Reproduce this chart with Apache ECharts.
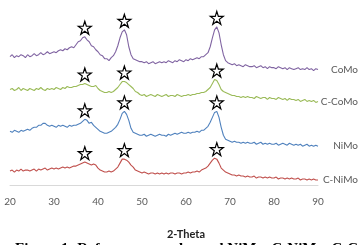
<!DOCTYPE html>
<html>
<head>
<meta charset="utf-8">
<script src="https://cdn.jsdelivr.net/npm/echarts@6/dist/echarts.min.js"></script>
<style>
  html, body { margin: 0; padding: 0; background: #fff; }
  #chart { width: 360px; height: 245px; }
</style>
</head>
<body>
<div id="chart"></div>
<script>
// 2-theta from 20 to 90, step 0.5
var twoTheta = [];
for (var t = 20; t <= 90; t += 0.5) twoTheta.push(t);

var xTicks = [20, 30, 40, 50, 60, 70, 80, 90];
var sampleNames = ['CoMo', 'C-CoMo', 'NiMo', 'C-NiMo'];
var peakPositions = [37, 46, 67];

// intensities (a.u., stacked offsets)
var coMo = [
  129,131,128,130,129,131,130,128,131,129,
  130,132,130,131,133,131,132,134,132,133,
  134,133,135,136,135,137,136,138,139,138,
  141,144,145,148,149,146,144,140,139,136,
  134,131,130,127,127,125,128,130,134,140,
  148,154,156,151,139,131,127,126,125,124,
  124,123,124,122,123,124,122,123,124,123,
  124,123,125,124,123,125,124,126,125,124,
  126,125,127,126,127,128,127,129,129,131,
  133,139,148,156,159,153,141,131,125,123,
  122,121,122,120,121,120,119,121,120,119,
  119,120,118,119,120,118,119,117,119,118,
  118,117,119,118,117,118,116,118,117,116,
  117,118,116,117,116,118,116,117,115,117,
  116
];
var cCoMo = [
  96,97,95,96,98,95,97,96,95,97,
  96,95,97,96,98,96,95,97,96,97,
  96,98,97,96,98,97,99,98,98,99,
  99,100,101,101,102,101,100,99,99,100,
  97,95,94,93,93,94,93,94,96,98,
  101,104,104,103,101,99,97,94,93,91,
  90,91,89,90,91,90,89,91,90,89,
  90,91,89,90,90,89,91,90,89,90,
  90,91,90,91,91,92,92,93,93,94,
  96,98,102,106,105,101,96,94,93,92,
  91,90,90,89,89,88,89,88,89,88,
  88,87,89,88,87,88,88,86,88,87,
  87,86,88,87,86,87,85,87,86,86,
  85,86,84,85,86,84,85,84,85,83,
  84
];
var niMo = [
  54,53,55,54,53,55,54,55,56,55,
  57,58,58,60,60,62,62,60,59,60,
  59,58,60,59,60,59,58,60,59,60,
  60,61,62,64,66,65,62,63,60,58,
  56,54,53,52,52,53,54,56,58,61,
  66,72,74,71,65,57,53,52,51,50,
  50,51,49,50,51,50,49,50,51,50,
  50,49,51,50,51,52,51,52,53,52,
  52,53,52,53,53,54,53,55,55,57,
  59,63,68,73,74,68,58,50,46,45,
  44,43,44,43,43,42,43,42,43,42,
  42,43,41,42,43,41,42,41,42,41,
  41,42,40,41,42,41,40,42,41,40,
  41,40,41,39,40,41,39,40,39,40,
  39
];
var cNiMo = [
  14,15,13,15,14,16,14,15,15,14,
  15,16,14,16,15,16,17,15,16,17,
  16,17,16,17,18,17,18,17,18,19,
  19,20,21,22,23,22,21,20,21,20,
  17,15,14,13,13,14,13,14,16,18,
  22,26,26,25,23,20,18,15,14,13,
  12,13,12,11,12,12,11,12,11,12,
  11,12,11,12,12,11,12,12,11,12,
  12,13,12,13,13,14,13,15,16,17,
  19,22,25,27,26,22,17,15,13,12,
  11,10,10,9,10,9,9,8,9,8,
  8,9,7,8,8,7,8,7,8,7,
  7,8,6,7,7,6,7,6,7,6,
  6,7,5,6,6,5,6,5,6,5,
  5
];

var colors = ['#8064A2', '#9BBB59', '#4F81BD', '#C0504D'];
var starPath = 'path://M50,0 L61.8,35.1 L98.9,35.1 L68.9,56.8 L80.3,91.9 L50,70.2 L19.7,91.9 L31.1,56.8 L1.1,35.1 L38.2,35.1 Z';

function pairs(vals) {
  return vals.map(function (v, i) { return [twoTheta[i], v]; });
}

// star over each reflection, at the top of the peak
function peakMarks(vals) {
  return peakPositions.map(function (p) {
    var best = -Infinity;
    twoTheta.forEach(function (t, i) {
      if (Math.abs(t - p) <= 1 && vals[i] > best) best = vals[i];
    });
    return { coord: [p, best] };
  });
}

var allSeries = [coMo, cCoMo, niMo, cNiMo];

var myChart = echarts.init(document.getElementById('chart'));
myChart.setOption({
  animation: false,
  color: colors,
  grid: { left: 10, right: 42, top: 0, bottom: 59 },
  xAxis: {
    type: 'value',
    min: xTicks[0],
    max: xTicks[xTicks.length - 1],
    interval: 10,
    name: '2-Theta',
    nameLocation: 'middle',
    nameGap: 44,
    nameTextStyle: { fontFamily: 'Lato', fontWeight: 'bold', fontSize: 11, color: '#222', padding: [0, 0, 0, 44] },
    axisLine: { lineStyle: { color: '#d9d9d9' } },
    axisTick: { show: false },
    splitLine: { show: false },
    axisLabel: { color: '#595959', fontFamily: 'Lato', fontSize: 10, margin: 12 }
  },
  yAxis: { type: 'value', min: 0, max: 186, show: false },
  series: allSeries.map(function (vals, k) {
    return {
      name: sampleNames[k],
      type: 'line',
      symbol: 'none',
      data: pairs(vals),
      lineStyle: { width: 1.1 },
      endLabel: {
        show: true,
        formatter: '{a}',
        align: 'right',
        offset: [32, 0],
        color: '#595959',
        fontFamily: 'Lato',
        fontSize: 10
      },
      markPoint: {
        symbol: starPath,
        symbolSize: 13,
        symbolOffset: [0, -9],
        itemStyle: { color: '#fff', borderColor: '#000', borderWidth: 1.2 },
        label: { show: false },
        data: peakMarks(vals)
      }
    };
  }),
  graphic: [{
    type: 'text',
    left: 15,
    top: 242,
    style: {
      text: 'Figure 1: Reference samples and NiMo, C-NiMo, C-CoMo',
      font: 'bold 15px "Liberation Serif"',
      fill: '#000'
    }
  }]
});
</script>
</body>
</html>
